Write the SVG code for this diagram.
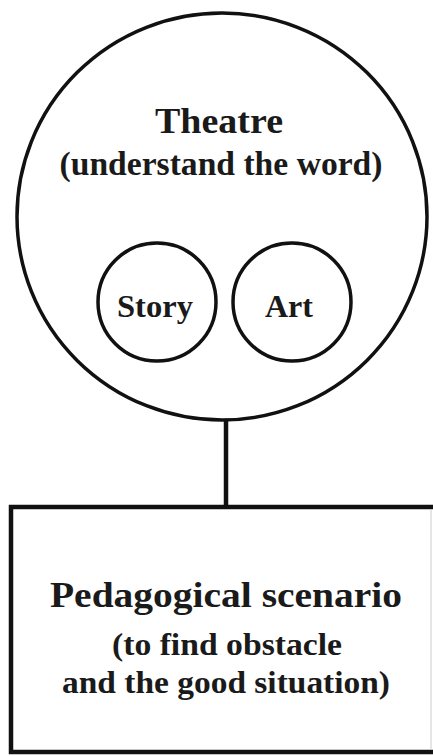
<svg xmlns="http://www.w3.org/2000/svg" width="433" height="756" viewBox="0 0 433 756">
<style>
.s{fill:none;stroke:#111;}
.t{font-family:"Liberation Serif","Times New Roman",serif;font-weight:bold;fill:#1a1a1a;text-anchor:middle;}
</style>
<rect width="433" height="756" fill="#fff"/>
<g id="theatre">
<ellipse class="s" cx="222" cy="216.5" rx="205" ry="203.5" stroke-width="3.5"/>
<text class="t" x="219" y="133" font-size="36" textLength="128" lengthAdjust="spacingAndGlyphs">Theatre</text>
<text class="t" x="221" y="175" font-size="34" textLength="323" lengthAdjust="spacingAndGlyphs">(understand the word)</text>
</g>
<g id="story">
<circle class="s" cx="157" cy="302" r="59" stroke-width="3.5"/>
<text class="t" x="155" y="317" font-size="32" textLength="76" lengthAdjust="spacingAndGlyphs">Story</text>
</g>
<g id="art">
<circle class="s" cx="292" cy="302" r="59" stroke-width="3.5"/>
<text class="t" x="289" y="317" font-size="32" textLength="48" lengthAdjust="spacingAndGlyphs">Art</text>
</g>
<g id="connectors">
<line class="s" x1="226" y1="421" x2="226" y2="505" stroke-width="4.5"/>
</g>
<g id="scenario">
<rect class="s" x="11" y="507" width="440" height="245" stroke-width="4.5"/>
<line x1="431" y1="509" x2="431" y2="750" stroke="#ccc" stroke-width="1"/>
<text class="t" x="226" y="607" font-size="36" textLength="352" lengthAdjust="spacingAndGlyphs">Pedagogical  scenario</text>
<text class="t" x="227" y="655" font-size="32" textLength="230" lengthAdjust="spacingAndGlyphs">(to find obstacle</text>
<text class="t" x="226" y="693" font-size="32" textLength="328" lengthAdjust="spacingAndGlyphs">and the good situation)</text>
</g>
</svg>
